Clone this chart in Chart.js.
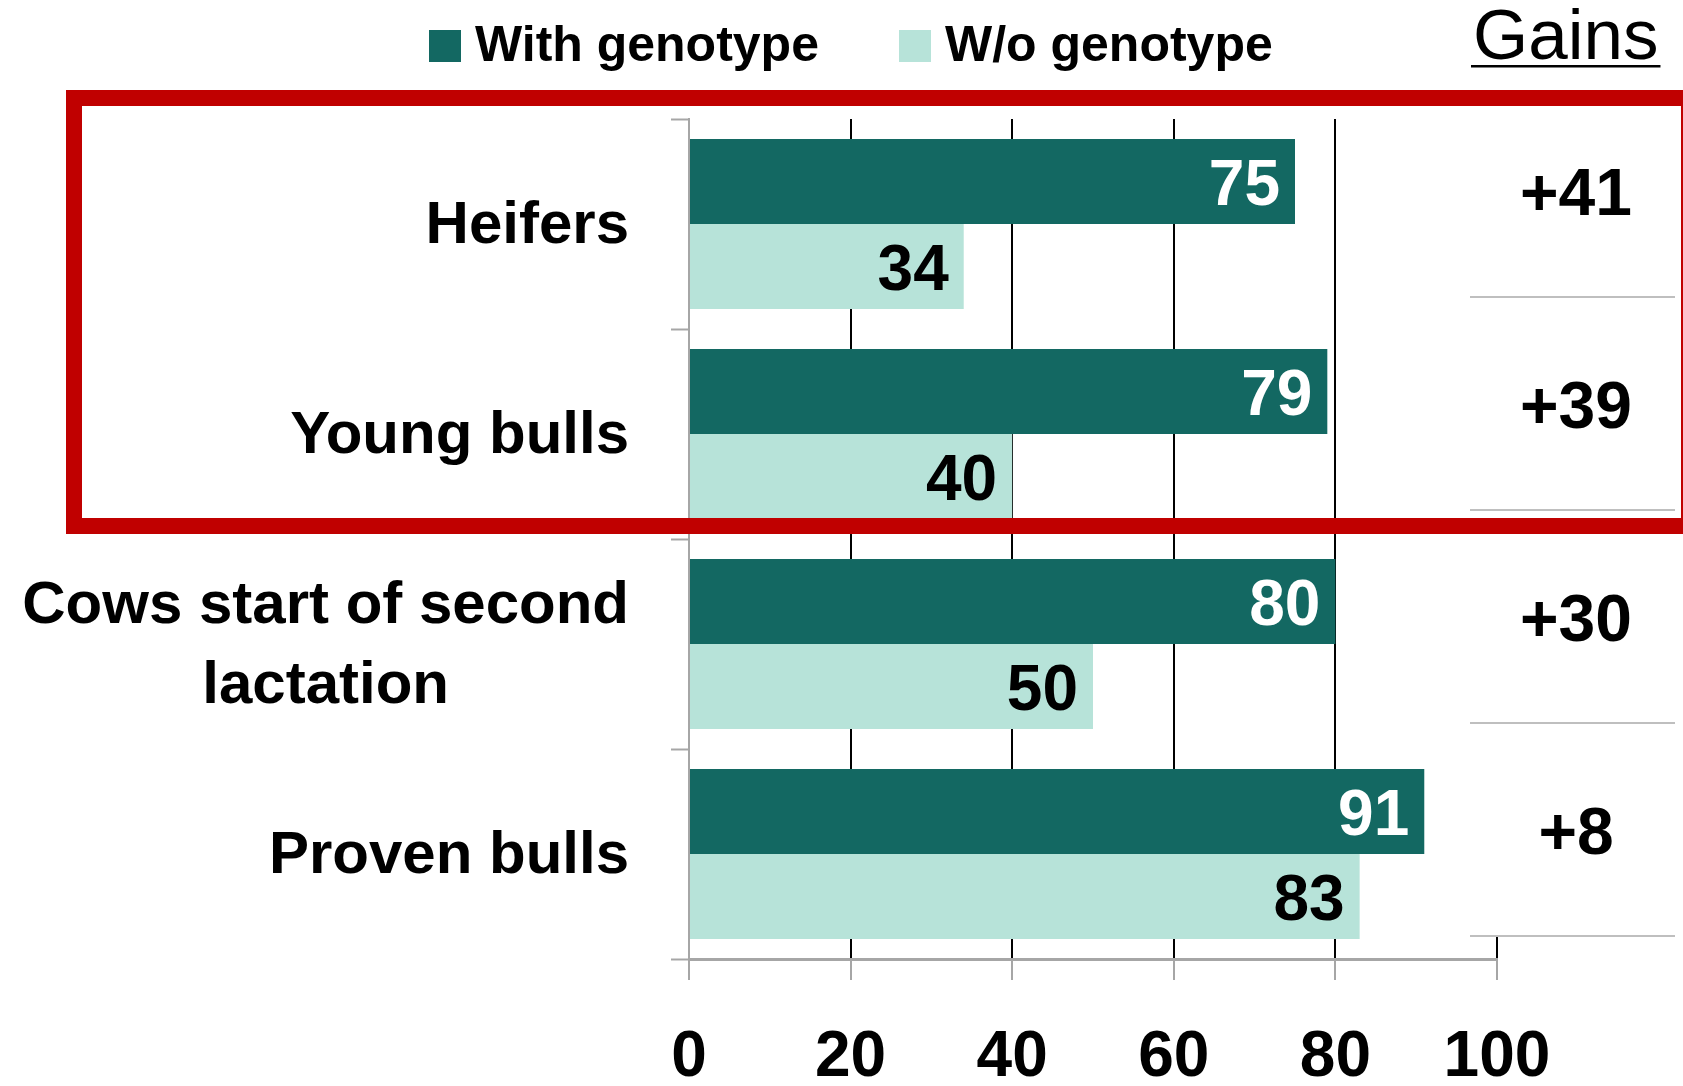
<!DOCTYPE html>
<html>
<head>
<meta charset="utf-8">
<script src="https://cdn.jsdelivr.net/npm/chart.js@4.4.1/dist/chart.umd.min.js"></script>
<style>
  html, body { margin: 0; padding: 0; background: #fff; }
  #wrap { width: 1683px; height: 1086px; position: relative; }
</style>
</head>
<body>
<div id="wrap"><canvas id="chart"></canvas></div>
<script>
// data
const categories = ['Heifers', 'Young bulls', ['Cows start of second', 'lactation'], 'Proven bulls'];
const withGenotype = [75, 79, 80, 91];
const withoutGenotype = [34, 40, 50, 83];
const seriesNames = ['With genotype', 'W/o genotype'];
const xTicks = [0, 20, 40, 60, 80, 100];
const gainsTitle = 'Gains';

const DARK = '#136862';
const LIGHT = '#b7e3d9';
const GRAY = '#a6a6a6';
const RED = '#c00000';
const FONT = '"Liberation Sans", Arial, sans-serif';

// gains = with - without
const gains = withGenotype.map((v, i) => v - withoutGenotype[i]);

// table on the right (rows of the gains column)
const tableLeft = 1470, tableRight = 1675, firstRowLine = 297, rowH = 213;

const decor = {
    id: 'decor',
    beforeDatasetsDraw(chart) {
        // the gains column sits over the plot's right edge
        const ctx = chart.ctx;
        ctx.save();
        ctx.fillStyle = '#fff';
        ctx.fillRect(tableLeft, 0, chart.width - tableLeft, firstRowLine + (gains.length - 1) * rowH);
        ctx.restore();
    },
    afterDatasetsDraw(chart) {
        const ctx = chart.ctx;
        ctx.save();
        ctx.font = 'bold 64px ' + FONT;
        ctx.textAlign = 'right';
        ctx.textBaseline = 'middle';
        chart.data.datasets.forEach((ds, di) => {
            const meta = chart.getDatasetMeta(di);
            ctx.fillStyle = di === 0 ? '#fff' : '#000';
            meta.data.forEach((bar, i) => {
                ctx.fillText(String(ds.data[i]), bar.x - 15, bar.y + 6);
            });
        });
        ctx.restore();
    },
    afterDraw(chart) {
        const ctx = chart.ctx;
        const y = chart.scales.y;
        ctx.save();

        // category labels (multi-line ones centred within their block)
        ctx.font = 'bold 60px ' + FONT;
        ctx.fillStyle = '#000';
        ctx.textBaseline = 'middle';
        const labelRight = 629, lineH = 80;
        categories.forEach((lab, i) => {
            const lines = Array.isArray(lab) ? lab : [lab];
            const cy = y.getPixelForValue(i) + 2;
            const w = Math.max(...lines.map(l => ctx.measureText(l).width));
            ctx.textAlign = 'center';
            lines.forEach((l, k) => {
                const ly = cy + (k - (lines.length - 1) / 2) * lineH;
                ctx.fillText(l, labelRight - w / 2, ly);
            });
        });

        // legend
        ctx.font = 'bold 50px ' + FONT;
        ctx.textAlign = 'left';
        const legendX = [429, 899];
        chart.data.datasets.forEach((ds, di) => {
            ctx.fillStyle = ds.backgroundColor;
            ctx.fillRect(legendX[di], 30, 32, 32);
            ctx.fillStyle = '#000';
            ctx.fillText(ds.label, legendX[di] + 46, 47);
        });

        // gains column
        ctx.font = '71px ' + FONT;
        ctx.textBaseline = 'alphabetic';
        ctx.fillText(gainsTitle, 1473, 59);
        const tw = ctx.measureText(gainsTitle).width;
        ctx.fillRect(1471, 65, tw + 4, 2.5);

        ctx.font = 'bold 66px ' + FONT;
        ctx.textAlign = 'center';
        ctx.textBaseline = 'middle';
        gains.forEach((g, i) => {
            const lineY = firstRowLine + i * rowH;
            ctx.fillStyle = '#000';
            ctx.fillText('+' + g, 1576, lineY - 100);
            ctx.strokeStyle = '#bfbfbf';
            ctx.lineWidth = 2;
            ctx.beginPath();
            ctx.moveTo(tableLeft, lineY);
            ctx.lineTo(tableRight, lineY);
            ctx.stroke();
        });

        // red highlight box around the first two groups
        ctx.strokeStyle = RED;
        ctx.lineWidth = 16;
        ctx.strokeRect(74, 98, 1683 - 74 + 6, 526 - 98);
        ctx.restore();
    }
};

new Chart(document.getElementById('chart'), {
    type: 'bar',
    data: {
        labels: categories,
        datasets: [
            { label: seriesNames[0], data: withGenotype, backgroundColor: DARK },
            { label: seriesNames[1], data: withoutGenotype, backgroundColor: LIGHT }
        ]
    },
    options: {
        indexAxis: 'y',
        responsive: true,
        maintainAspectRatio: false,
        animation: false,
        devicePixelRatio: 1,
        layout: { padding: { top: 119, right: 186, left: 0, bottom: 0 } },
        datasets: { bar: { categoryPercentage: 0.81, barPercentage: 1 } },
        plugins: { legend: { display: false }, tooltip: { enabled: false } },
        scales: {
            x: {
                min: 0,
                max: 100,
                afterBuildTicks: s => { s.ticks = xTicks.map(v => ({ value: v })); },
                afterFit: s => { s.height = 127; },
                ticks: {
                    color: '#000',
                    font: { family: FONT, size: 64, weight: 'bold' },
                    padding: 40
                },
                grid: {
                    color: c => (c.tick && c.tick.value === 0 ? GRAY : '#000'),
                    lineWidth: 2,
                    tickColor: GRAY,
                    tickLength: 21,
                    tickWidth: 2
                },
                border: { color: GRAY, width: 3 }
            },
            y: {
                afterFit: s => { s.width = 689; },
                ticks: { display: false },
                grid: {
                    drawOnChartArea: false,
                    offset: true,
                    tickColor: GRAY,
                    tickLength: 18,
                    tickWidth: 2
                },
                border: { color: GRAY, width: 2 }
            }
        }
    },
    plugins: [decor]
});
</script>
</body>
</html>
